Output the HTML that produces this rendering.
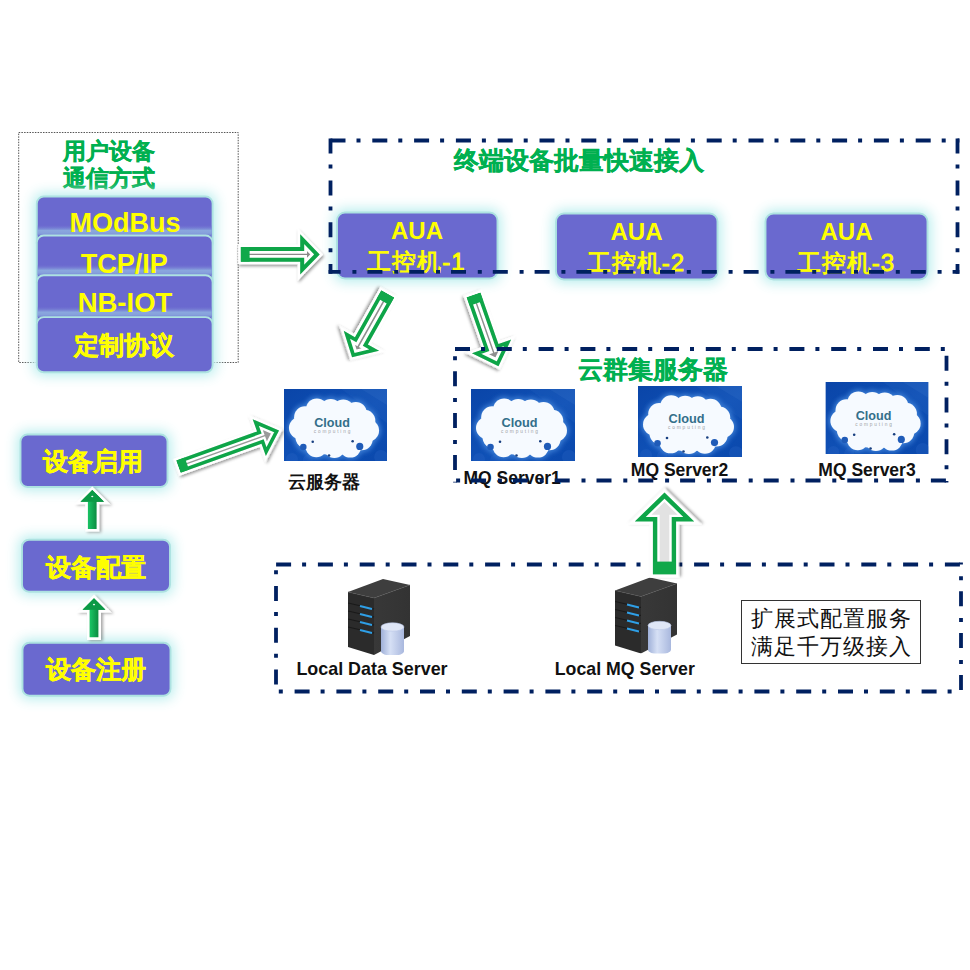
<!DOCTYPE html>
<html><head><meta charset="utf-8">
<style>
html,body{margin:0;padding:0;background:#fff;width:970px;height:970px;overflow:hidden}
svg{position:absolute;left:0;top:0}
text{font-family:"Liberation Sans",sans-serif}
.pb{fill:#6b69cf;stroke:#ade2e1;stroke-width:1.9}
.yt{fill:#ffff00;font-weight:bold;text-anchor:middle}
.yc{stroke:#ffff00;stroke-width:0.5}
.yr{fill:#ffff00;font-weight:normal;text-anchor:middle;stroke:#ffff00;stroke-width:0.85}
.gt{fill:#00b050;font-weight:bold;stroke:#00b050;stroke-width:0.35}
.bl{font-weight:bold;fill:#111;text-anchor:middle}
.sr{font-family:"Liberation Serif",serif;fill:#111}
.dash{stroke:#002060;stroke-width:3.8;fill:none;stroke-dasharray:15 11 4 11.8}
</style></head><body>
<svg width="970" height="970" viewBox="0 0 970 970">
<defs>
<filter id="glow" x="-40%" y="-60%" width="180%" height="220%">
  <feMorphology in="SourceAlpha" operator="dilate" radius="2" result="d"/>
  <feGaussianBlur in="d" stdDeviation="6.5" result="b"/>
  <feComponentTransfer in="b" result="b2"><feFuncA type="linear" slope="1.5"/></feComponentTransfer>
  <feFlood flood-color="#c6f1f1" flood-opacity="0.9"/>
  <feComposite in2="b2" operator="in" result="g"/>
  <feMerge><feMergeNode in="g"/><feMergeNode in="SourceGraphic"/></feMerge>
</filter>
<linearGradient id="band" x1="0" y1="0" x2="0" y2="1">
  <stop offset="0" stop-color="#6b69cf" stop-opacity="0"/>
  <stop offset="0.55" stop-color="#8aa8de"/>
  <stop offset="0.8" stop-color="#86a0dc"/>
  <stop offset="1" stop-color="#7480d4"/>
</linearGradient>
<filter id="ashadow" x="-30%" y="-50%" width="160%" height="200%">
  <feGaussianBlur in="SourceAlpha" stdDeviation="1.6" result="b"/>
  <feOffset dx="1" dy="1.5" result="o"/>
  <feFlood flood-color="#000" flood-opacity="0.4"/>
  <feComposite in2="o" operator="in" result="s"/>
  <feMerge><feMergeNode in="s"/><feMergeNode in="SourceGraphic"/></feMerge>
</filter>
<filter id="ashadow2" x="-50%" y="-30%" width="200%" height="160%">
  <feGaussianBlur in="SourceAlpha" stdDeviation="1.4" result="b"/>
  <feOffset dx="1.5" dy="1" result="o"/>
  <feFlood flood-color="#000" flood-opacity="0.35"/>
  <feComposite in2="o" operator="in" result="s"/>
  <feMerge><feMergeNode in="s"/><feMergeNode in="SourceGraphic"/></feMerge>
</filter>
<linearGradient id="sgrad" x1="0" y1="0" x2="1" y2="0">
  <stop offset="0" stop-color="#0a9444"/><stop offset="0.35" stop-color="#18c062"/><stop offset="0.7" stop-color="#0c8a40"/><stop offset="1" stop-color="#0a7a3a"/>
</linearGradient>
<linearGradient id="cloudbg" x1="0" y1="0" x2="1" y2="1">
  <stop offset="0" stop-color="#0a45a8"/>
  <stop offset="0.55" stop-color="#1051b6"/>
  <stop offset="1" stop-color="#0a48ac"/>
</linearGradient>
<filter id="cblur" x="-20%" y="-20%" width="140%" height="140%"><feGaussianBlur stdDeviation="0.7"/></filter>
<filter id="chalo" x="-20%" y="-20%" width="140%" height="140%"><feGaussianBlur stdDeviation="2.4"/></filter>
<symbol id="cloud" viewBox="0 0 104 72" preserveAspectRatio="none">
  <rect width="104" height="72" fill="url(#cloudbg)"/>
  <path d="M58,0 L104,0 L104,34 Z" fill="#4a86d8" opacity="0.10"/>
  <path d="M78,0 L104,0 L104,16 Z" fill="#6a9ce0" opacity="0.10"/>
  <circle cx="8" cy="70" r="6" fill="#2a66c6" opacity="0.3"/><circle cx="24" cy="71" r="5" fill="#2a66c6" opacity="0.3"/>
  <circle cx="98" cy="68" r="7" fill="#2a66c6" opacity="0.3"/>
  <g fill="#3d7fd6" filter="url(#chalo)" opacity="0.95"><ellipse cx="50" cy="40" rx="40" ry="26"/><ellipse cx="50" cy="52" rx="40" ry="17"/><circle cx="33.2" cy="20.4" r="13"/><circle cx="47.2" cy="20.9" r="13"/><circle cx="59.8" cy="21.4" r="13"/><circle cx="72.5" cy="23.9" r="13"/><circle cx="21.2" cy="28.2" r="13"/><circle cx="16.0" cy="39.0" r="13"/><circle cx="22.5" cy="48.2" r="13"/><circle cx="32.6" cy="57.3" r="13"/><circle cx="50.9" cy="58.0" r="13"/><circle cx="66.9" cy="57.6" r="13"/><circle cx="81.2" cy="31.8" r="13"/><circle cx="85.0" cy="41.5" r="13"/><circle cx="78.6" cy="50.3" r="13"/></g>
  <g fill="#f6faff" filter="url(#cblur)"><ellipse cx="50" cy="40" rx="38" ry="24"/><ellipse cx="50" cy="51" rx="37" ry="15"/><circle cx="33.2" cy="20.4" r="11"/><circle cx="47.2" cy="20.9" r="11"/><circle cx="59.8" cy="21.4" r="11"/><circle cx="72.5" cy="23.9" r="11"/><circle cx="21.2" cy="28.2" r="11"/><circle cx="16.0" cy="39.0" r="11"/><circle cx="22.5" cy="48.2" r="11"/><circle cx="32.6" cy="57.3" r="11"/><circle cx="50.9" cy="58.0" r="11"/><circle cx="66.9" cy="57.6" r="11"/><circle cx="81.2" cy="31.8" r="11"/><circle cx="85.0" cy="41.5" r="11"/><circle cx="78.6" cy="50.3" r="11"/></g>
  <circle cx="19.5" cy="58" r="3.3" fill="#1f5bb8"/>
  <circle cx="76.5" cy="57.4" r="3.6" fill="#1f5bb8"/>
  <circle cx="29" cy="52.8" r="1.3" fill="#183f80"/>
  <circle cx="69.3" cy="52.3" r="1.3" fill="#183f80"/>
  <circle cx="45.5" cy="66.5" r="1.3" fill="#183f80"/>
  <text x="48.5" y="38" font-size="13.5" font-weight="bold" fill="#336f8a" text-anchor="middle" textLength="36" lengthAdjust="spacingAndGlyphs">Cloud</text>
  <text x="48.5" y="43.8" font-size="4.8" fill="#9ea3a6" text-anchor="middle" textLength="37" lengthAdjust="spacing">computing</text>
</symbol>
<linearGradient id="srvside" x1="0" y1="0" x2="1" y2="0">
  <stop offset="0" stop-color="#383838"/><stop offset="1" stop-color="#333333"/>
</linearGradient>
<linearGradient id="cyl" x1="0" y1="0" x2="1" y2="0">
  <stop offset="0" stop-color="#9fb0d8"/><stop offset="0.4" stop-color="#d6e0f5"/><stop offset="1" stop-color="#a9b8de"/>
</linearGradient>
<symbol id="server" viewBox="0 0 62 76" preserveAspectRatio="none">
  <path d="M0,13 L35,0 L62,6 L26,19 Z" fill="#3e3e3e"/>
  <path d="M26,19 L62,6 L62,57 L26,76 Z" fill="url(#srvside)"/>
  <path d="M0,13 L26,19 L26,76 L0,68 Z" fill="#2b2b2b"/>
  <path d="M0,13 L26,19 L62,6" fill="none" stroke="#555" stroke-width="0.5"/>
  <g stroke="#1a1a1a" stroke-width="1.1"><path d="M0,24 L26,30 M0,32 L26,38 M0,40 L26,46 M0,48 L26,54"/></g>
  <g stroke="#2f9fe6" stroke-width="2.1"><path d="M12,27 L24,30 M12,35 L24,38 M12,43 L24,46 M12,51 L24,54"/></g>
  <path d="M33,48 v24.5 a11.5,4.2 0 0 0 23,0 v-24.5 Z" fill="url(#cyl)"/>
  <ellipse cx="44.5" cy="48" rx="11.5" ry="4.2" fill="#dfe6f6" stroke="#b8c6e6" stroke-width="0.6"/>
</symbol>
</defs>
<rect x="18.7" y="132.5" width="219.5" height="230" fill="none" stroke="#555" stroke-width="1" stroke-dasharray="1.5 1.2"/>
<text class="gt" x="63" y="159.3" font-size="22.8">用户设备</text>
<text class="gt" x="63" y="186.3" font-size="22.8">通信方式</text>
<g filter="url(#glow)">
<rect class="pb" x="36.8" y="196.5" width="175.8" height="54" rx="7"/><rect x="37.599999999999994" y="224.5" width="174.20000000000002" height="11" fill="url(#band)"/>
<rect class="pb" x="36.8" y="235.5" width="175.8" height="54" rx="7"/><rect x="37.599999999999994" y="264.2" width="174.20000000000002" height="11" fill="url(#band)"/>
<rect class="pb" x="36.8" y="275.2" width="175.8" height="54" rx="7"/><rect x="37.599999999999994" y="306.09999999999997" width="174.20000000000002" height="11" fill="url(#band)"/>
<rect class="pb" x="36.8" y="317.1" width="175.8" height="55.2" rx="7"/>
</g>
<text class="yt" x="125" y="232.3" font-size="27">MOdBus</text>
<text class="yt" x="124.2" y="273" font-size="27">TCP/IP</text>
<text class="yt" x="125" y="312.3" font-size="27.5">NB-IOT</text>
<text class="yt yc" x="124.2" y="354" font-size="25">定制协议</text>
<g filter="url(#glow)">
<rect class="pb" x="337" y="212.5" width="160.5" height="66" rx="8"/>
<rect class="pb" x="556" y="213.5" width="161.5" height="66" rx="8"/>
<rect class="pb" x="765.5" y="213.5" width="162" height="66" rx="8"/>
</g>
<text class="yt" x="417" y="239" font-size="24">AUA</text>
<text class="yr" x="416.5" y="270.3" font-size="24" letter-spacing="1">工控机-1</text>
<text class="yt" x="636.5" y="240" font-size="24">AUA</text>
<text class="yr" x="636.0" y="271.3" font-size="24" letter-spacing="1">工控机-2</text>
<text class="yt" x="846.5" y="240" font-size="24">AUA</text>
<text class="yr" x="846.0" y="271.3" font-size="24" letter-spacing="1">工控机-3</text>
<text class="gt" x="453.5" y="168.5" font-size="25.3">终端设备批量快速接入</text>
<text class="gt" x="578" y="377.5" font-size="25">云群集服务器</text>
<g filter="url(#glow)">
<rect class="pb" x="20.5" y="434.5" width="147" height="52.5" rx="7"/>
<rect class="pb" x="22" y="539.7" width="148" height="52" rx="7"/>
<rect class="pb" x="22.5" y="642.7" width="148" height="53" rx="7"/>
</g>
<text class="yt yc" x="93" y="470.3" font-size="25">设备启用</text>
<text class="yt yc" x="96" y="575.7" font-size="25">设备配置</text>
<text class="yt yc" x="96" y="678.3" font-size="25">设备注册</text>
<use href="#cloud" x="284" y="389" width="103" height="72"/>
<use href="#cloud" x="471" y="389" width="104" height="72"/>
<use href="#cloud" x="638" y="386" width="104" height="71"/>
<use href="#cloud" x="825.4" y="382" width="103.2" height="72"/>
<text class="bl" x="323.5" y="488" font-size="17.5">云服务器</text>
<text class="bl" x="512.2" y="483.6" font-size="17.5">MQ Server1</text>
<text class="bl" x="679.5" y="476.2" font-size="17.5">MQ Server2</text>
<text class="bl" x="867" y="476.4" font-size="17.5">MQ Server3</text>
<use href="#server" x="348" y="579" width="62" height="76"/>
<use href="#server" x="615" y="577.5" width="62" height="76"/>
<text class="bl" x="372" y="674.6" font-size="17.9">Local Data Server</text>
<text class="bl" x="624.8" y="675" font-size="17.75">Local MQ Server</text>
<rect x="741.5" y="600.5" width="179" height="63" fill="#fff" stroke="#333" stroke-width="1"/>
<text class="sr" x="751" y="626" font-size="22" letter-spacing="1">扩展式配置服务</text>
<text class="sr" x="751" y="653.5" font-size="22" letter-spacing="1">满足千万级接入</text>
<g class="dash">
<line x1="274.1" y1="564.5" x2="962.9" y2="564.5" stroke-dashoffset="39.80"/>
<line x1="276" y1="564.5" x2="276" y2="691.5" stroke-dashoffset="20.30"/>
<line x1="961" y1="693.4" x2="961" y2="562.6" stroke-dashoffset="38.30"/>
<line x1="274.1" y1="691.5" x2="962.9" y2="691.5" stroke-dashoffset="21.30"/>
</g>
<g transform="translate(240.6,254.4) rotate(0)">
<clipPath id="ca1"><path d="M0,-7.4 L59.60,-7.4 L59.60,-20.1 L79.10,0 L59.60,20.1 L59.60,7.4 L0,7.4 Z"/></clipPath>
<path d="M0,-7.4 L59.60,-7.4 L59.60,-20.1 L79.10,0 L59.60,20.1 L59.60,7.4 L0,7.4 Z" fill="#fff" stroke="#fff" stroke-width="5.0" stroke-linejoin="miter" stroke-miterlimit="10" filter="url(#ashadow)"/>
<g clip-path="url(#ca1)">
<path d="M0,-7.4 L59.60,-7.4 L59.60,-20.1 L79.10,0 L59.60,20.1 L59.60,7.4 L0,7.4 Z" fill="#8a8a8a"/>
<path d="M0,-7.4 L59.60,-7.4 L59.60,-20.1 L79.10,0 L59.60,20.1 L59.60,7.4 L0,7.4 Z" fill="none" stroke="#fff" stroke-width="13.6" stroke-linejoin="miter" stroke-miterlimit="10"/>
<path d="M0,-7.4 L59.60,-7.4 L59.60,-20.1 L79.10,0 L59.60,20.1 L59.60,7.4 L0,7.4 Z" fill="none" stroke="#0ea548" stroke-width="8.0" stroke-linejoin="miter" stroke-miterlimit="10"/>
<rect x="0" y="-7.4" width="9" height="14.8" fill="#10a84a"/>
</g></g>
<g transform="translate(387.8,293.9) rotate(119.4)">
<clipPath id="ca2"><path d="M0,-7.4 L53.80,-7.4 L53.80,-20.3 L72.80,0 L53.80,20.3 L53.80,7.4 L0,7.4 Z"/></clipPath>
<path d="M0,-7.4 L53.80,-7.4 L53.80,-20.3 L72.80,0 L53.80,20.3 L53.80,7.4 L0,7.4 Z" fill="#fff" stroke="#fff" stroke-width="5.0" stroke-linejoin="miter" stroke-miterlimit="10" filter="url(#ashadow)"/>
<g clip-path="url(#ca2)">
<path d="M0,-7.4 L53.80,-7.4 L53.80,-20.3 L72.80,0 L53.80,20.3 L53.80,7.4 L0,7.4 Z" fill="#8f8f8f"/>
<path d="M0,-7.4 L53.80,-7.4 L53.80,-20.3 L72.80,0 L53.80,20.3 L53.80,7.4 L0,7.4 Z" fill="none" stroke="#fff" stroke-width="13.2" stroke-linejoin="miter" stroke-miterlimit="10"/>
<path d="M0,-7.4 L53.80,-7.4 L53.80,-20.3 L72.80,0 L53.80,20.3 L53.80,7.4 L0,7.4 Z" fill="none" stroke="#0ea548" stroke-width="7.4" stroke-linejoin="miter" stroke-miterlimit="10"/>
<rect x="0" y="-7.4" width="9" height="14.8" fill="#10a84a"/>
</g></g>
<g transform="translate(473.5,294.9) rotate(70.7)">
<clipPath id="ca3"><path d="M0,-7.3 L54.60,-7.3 L54.60,-20.8 L75.60,0 L54.60,20.8 L54.60,7.3 L0,7.3 Z"/></clipPath>
<path d="M0,-7.3 L54.60,-7.3 L54.60,-20.8 L75.60,0 L54.60,20.8 L54.60,7.3 L0,7.3 Z" fill="#fff" stroke="#fff" stroke-width="5.0" stroke-linejoin="miter" stroke-miterlimit="10" filter="url(#ashadow)"/>
<g clip-path="url(#ca3)">
<path d="M0,-7.3 L54.60,-7.3 L54.60,-20.8 L75.60,0 L54.60,20.8 L54.60,7.3 L0,7.3 Z" fill="#8f8f8f"/>
<path d="M0,-7.3 L54.60,-7.3 L54.60,-20.8 L75.60,0 L54.60,20.8 L54.60,7.3 L0,7.3 Z" fill="none" stroke="#fff" stroke-width="13.2" stroke-linejoin="miter" stroke-miterlimit="10"/>
<path d="M0,-7.3 L54.60,-7.3 L54.60,-20.8 L75.60,0 L54.60,20.8 L54.60,7.3 L0,7.3 Z" fill="none" stroke="#0ea548" stroke-width="7.4" stroke-linejoin="miter" stroke-miterlimit="10"/>
<rect x="0" y="-7.3" width="9" height="14.6" fill="#10a84a"/>
</g></g>
<g transform="translate(178.4,466.6) rotate(-19.7)">
<clipPath id="ca4"><path d="M0,-6.6 L85.90,-6.6 L85.90,-19.6 L106.90,0 L85.90,19.6 L85.90,6.6 L0,6.6 Z"/></clipPath>
<path d="M0,-6.6 L85.90,-6.6 L85.90,-19.6 L106.90,0 L85.90,19.6 L85.90,6.6 L0,6.6 Z" fill="#fff" stroke="#fff" stroke-width="5.0" stroke-linejoin="miter" stroke-miterlimit="10" filter="url(#ashadow)"/>
<g clip-path="url(#ca4)">
<path d="M0,-6.6 L85.90,-6.6 L85.90,-19.6 L106.90,0 L85.90,19.6 L85.90,6.6 L0,6.6 Z" fill="#9a9a9a"/>
<path d="M0,-6.6 L85.90,-6.6 L85.90,-19.6 L106.90,0 L85.90,19.6 L85.90,6.6 L0,6.6 Z" fill="none" stroke="#fff" stroke-width="11.8" stroke-linejoin="miter" stroke-miterlimit="10"/>
<path d="M0,-6.6 L85.90,-6.6 L85.90,-19.6 L106.90,0 L85.90,19.6 L85.90,6.6 L0,6.6 Z" fill="none" stroke="#0ea548" stroke-width="7.2" stroke-linejoin="miter" stroke-miterlimit="10"/>
<rect x="0" y="-6.6" width="9" height="13.2" fill="#10a84a"/>
</g></g>
<g transform="translate(664.5,574.6) rotate(-90)">
<clipPath id="ca5"><path d="M0,-11.6 L53.10,-11.6 L53.10,-29.75 L82.10,0 L53.10,29.75 L53.10,11.6 L0,11.6 Z"/></clipPath>
<path d="M0,-11.6 L53.10,-11.6 L53.10,-29.75 L82.10,0 L53.10,29.75 L53.10,11.6 L0,11.6 Z" fill="#fff" stroke="#fff" stroke-width="6" stroke-linejoin="miter" stroke-miterlimit="10" filter="url(#ashadow)"/>
<g clip-path="url(#ca5)">
<path d="M0,-11.6 L53.10,-11.6 L53.10,-29.75 L82.10,0 L53.10,29.75 L53.10,11.6 L0,11.6 Z" fill="#e2e2e2"/>
<path d="M0,-11.6 L53.10,-11.6 L53.10,-29.75 L82.10,0 L53.10,29.75 L53.10,11.6 L0,11.6 Z" fill="none" stroke="#fff" stroke-width="13.600000000000001" stroke-linejoin="miter" stroke-miterlimit="10"/>
<path d="M0,-11.6 L53.10,-11.6 L53.10,-29.75 L82.10,0 L53.10,29.75 L53.10,11.6 L0,11.6 Z" fill="none" stroke="#0ea548" stroke-width="8.8" stroke-linejoin="miter" stroke-miterlimit="10"/>
<rect x="0" y="-11.6" width="13" height="23.2" fill="#10a84a"/>
</g></g>
<path d="M87.9,528.9 L87.9,501.70000000000005 L80.5,501.70000000000005 L92.25,490.1 L104.0,501.70000000000005 L96.6,501.70000000000005 L96.6,528.9 Z" fill="#fff" stroke="#fff" stroke-width="5.2" stroke-linejoin="miter" filter="url(#ashadow2)"/>
<path d="M87.9,528.9 L87.9,501.70000000000005 L80.5,501.70000000000005 L92.25,490.1 L104.0,501.70000000000005 L96.6,501.70000000000005 L96.6,528.9 Z" fill="url(#sgrad)"/>
<path d="M80.5,501.70000000000005 L92.25,490.1 L104.0,501.70000000000005 Z" fill="#0b9a45"/>
<ellipse cx="92.25" cy="496.48" rx="1.1" ry="0.8" fill="#fff" opacity="0.9"/>
<path d="M89.6,637.3000000000001 L89.6,609.8000000000001 L82.55,609.8000000000001 L94.0,598.2 L105.45,609.8000000000001 L98.4,609.8000000000001 L98.4,637.3000000000001 Z" fill="#fff" stroke="#fff" stroke-width="5.2" stroke-linejoin="miter" filter="url(#ashadow2)"/>
<path d="M89.6,637.3000000000001 L89.6,609.8000000000001 L82.55,609.8000000000001 L94.0,598.2 L105.45,609.8000000000001 L98.4,609.8000000000001 L98.4,637.3000000000001 Z" fill="url(#sgrad)"/>
<path d="M82.55,609.8000000000001 L94.0,598.2 L105.45,609.8000000000001 Z" fill="#0b9a45"/>
<ellipse cx="94.0" cy="604.58" rx="1.1" ry="0.8" fill="#fff" opacity="0.9"/>
<g class="dash">
<line x1="328.6" y1="140.5" x2="959.4" y2="140.5" stroke-dashoffset="39.90"/>
<line x1="957.5" y1="138.6" x2="957.5" y2="273.7" stroke-dashoffset="0.00"/>
<line x1="959.4" y1="271.8" x2="328.6" y2="271.8" stroke-dashoffset="8.20"/>
<line x1="330.5" y1="138.6" x2="330.5" y2="273.7" stroke-dashoffset="0.00"/>
<line x1="453.1" y1="349" x2="948.4" y2="349" stroke-dashoffset="39.90"/>
<line x1="946.5" y1="347.1" x2="946.5" y2="482.4" stroke-dashoffset="33.20"/>
<line x1="948.4" y1="480.5" x2="453.1" y2="480.5" stroke-dashoffset="39.30"/>
<line x1="455" y1="482.4" x2="455" y2="347.1" stroke-dashoffset="29.30"/>
</g>
</svg>
</body></html>
